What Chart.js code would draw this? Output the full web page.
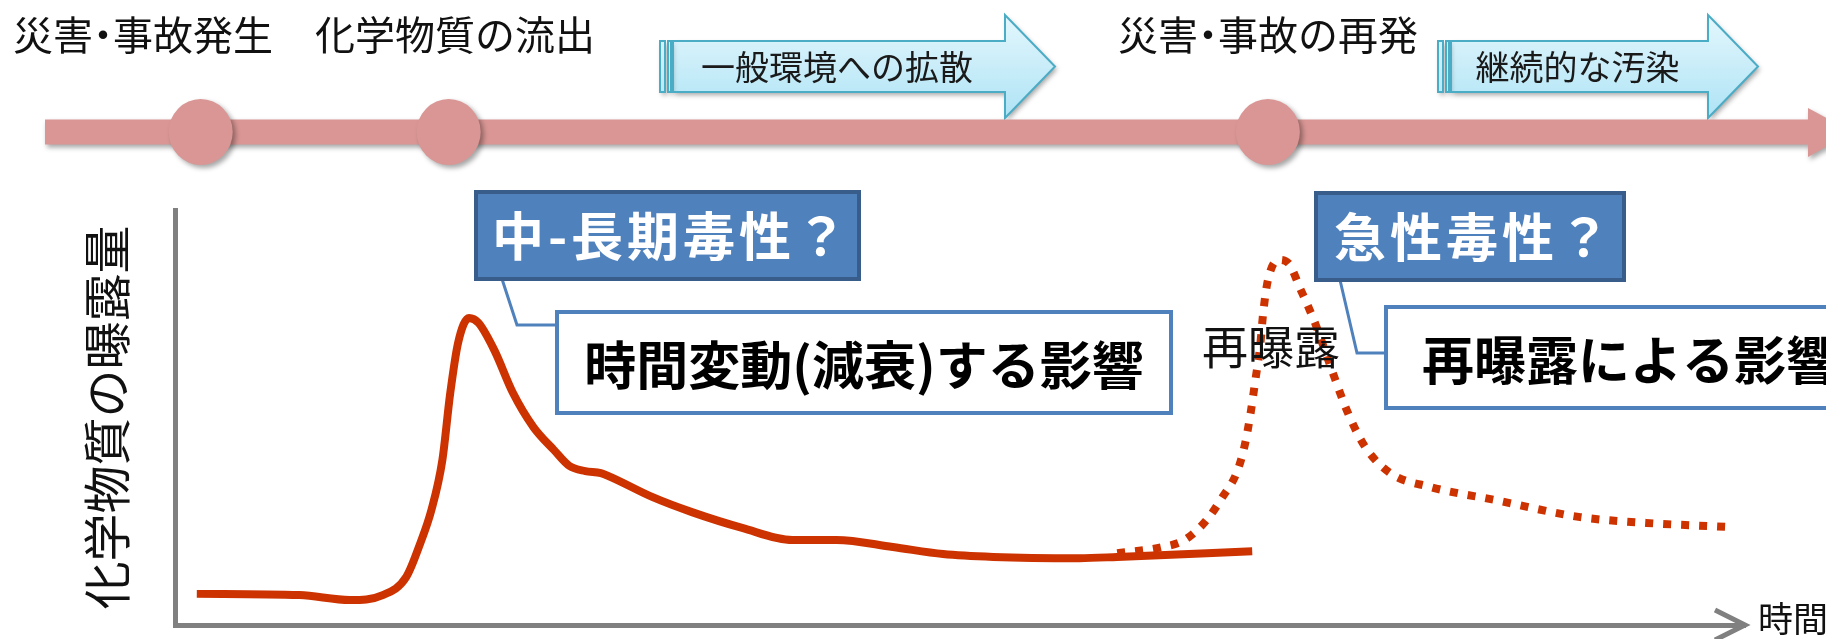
<!DOCTYPE html>
<html>
<head>
<meta charset="utf-8">
<script src="https://cdn.jsdelivr.net/npm/chart.js@4.4.1/dist/chart.umd.min.js"></script>
<style>
  html, body { margin: 0; padding: 0; background: #fff; }
  canvas { display: block; }
</style>
</head>
<body>
<canvas id="exposureChart" width="1826" height="639"></canvas>
<script>
// exposure curve (time 0-100, exposure 0-100)
var solidTime = [1.35, 7.9, 11.1, 13.2, 14.7, 15.6, 16.3, 17.0, 17.5, 18.0, 18.7, 19.3, 20.3, 21.5, 22.8, 24.1, 25.1, 26.1, 27.1, 27.7, 30.4, 32.9, 36.1, 39.3, 42.1, 45.7, 48.9, 52.1, 57.6, 60.0, 68.6];
var solidExposure = [7.5, 7.2, 6.0, 7.2, 11.6, 19.8, 27.7, 39.8, 55.9, 68.0, 74.0, 72.8, 66.3, 55.9, 47.7, 42.2, 38.3, 37.1, 36.6, 35.7, 30.8, 27.2, 23.4, 20.5, 20.5, 18.8, 17.1, 16.4, 16.1, 16.4, 17.8];

// re-exposure (dotted)
var reTime = [60.0, 62.9, 64.3, 65.7, 66.7, 67.6, 68.1, 68.5, 68.8, 69.1, 69.3, 69.6, 70.3, 70.9, 71.7, 72.6, 73.6, 74.7, 75.8, 77.4, 79.9, 84.1, 89.5, 93.7, 99.1];
var reExposure = [17.3, 18.8, 20.5, 25.3, 30.8, 36.6, 42.9, 51.1, 59.0, 67.0, 75.2, 83.1, 88.0, 87.2, 80.7, 72.8, 62.2, 51.1, 42.9, 36.6, 33.3, 30.1, 26.0, 24.6, 23.6];

// timeline events (on the same time axis)
var eventTimes = [1.6, 17.4, 69.6];
var eventLabels = ['災害・事故発生', '化学物質の流出', '災害・事故の再発'];
var phaseLabels = ['一般環境への拡散', '継続的な汚染'];

var yTitle = '化学物質の曝露量';
var xTitle = '時間';
var questionLabels = ['中-長期毒性？', '急性毒性？'];
var effectLabels = ['時間変動(減衰)する影響', '再曝露による影響'];
var reExposureLabel = '再曝露';

var FONT = "'Noto Sans CJK JP', 'Noto Sans', sans-serif";
var RED = '#CC3300';
var PINK = '#D99694';
var GRAY = '#808080';
var BLUE = '#4F81BD';

// pixel layout of the decorations
var layout = {
  eventLabelX: [13, 315, 1118],
  eventLabelY: 35,
  barY: 132, barH: 25, barX0: 45, barHeadX: 1808,
  phases: [[660, 1005, 1055], [1438, 1708, 1758]],
  qBoxes: [[476, 192, 383, 87], [1316, 193, 308, 87]],
  eBoxes: [[557, 312, 614, 101], [1386, 307, 520, 101]],
  leaders: [[[502, 279], [517, 325], [557, 325]], [[1340, 280], [1357, 353], [1386, 353]]]
};

function toXY(xs, ys) {
  return xs.map(function (x, i) { return {x: x, y: ys[i]}; });
}

function shadow(ctx, on) {
  ctx.shadowColor = on ? 'rgba(0,0,0,0.35)' : 'transparent';
  ctx.shadowBlur = on ? 5 : 0;
  ctx.shadowOffsetX = on ? 2 : 0;
  ctx.shadowOffsetY = on ? 3 : 0;
}

function spacedText(ctx, text, cx, cy, gap) {
  var chars = Array.from(text);
  var widths = chars.map(function (c) { return ctx.measureText(c).width; });
  var total = widths.reduce(function (a, b) { return a + b; }, 0) + gap * (chars.length - 1);
  var x = cx - total / 2;
  ctx.textAlign = 'left';
  chars.forEach(function (c, i) {
    ctx.fillText(c, x, cy);
    x += widths[i] + gap;
  });
}

// the middle dot is set tight, as in the original slide
function tightText(ctx, text, x, y) {
  ctx.textAlign = 'left';
  Array.from(text).forEach(function (c) {
    var w = ctx.measureText(c).width;
    if (c === '・') {
      ctx.fillText(c, x - w * 0.25, y);
      x += w * 0.5;
    } else {
      ctx.fillText(c, x, y);
      x += w;
    }
  });
}

function stripedArrow(ctx, p, label) {
  var x0 = p[0], headX = p[1], tip = p[2];
  var top = 41, bottom = 92, hTop = 15, hBot = 118, mid = (top + bottom) / 2;
  var grad = ctx.createLinearGradient(0, hTop, 0, hBot);
  grad.addColorStop(0, '#E4F7FD');
  grad.addColorStop(1, '#AEE3F5');
  ctx.save();
  ctx.fillStyle = grad;
  ctx.strokeStyle = '#4BACC6';
  ctx.lineWidth = 2;
  shadow(ctx, true);
  ctx.beginPath();
  ctx.moveTo(x0 + 13, top);
  ctx.lineTo(headX, top);
  ctx.lineTo(headX, hTop);
  ctx.lineTo(tip, mid);
  ctx.lineTo(headX, hBot);
  ctx.lineTo(headX, bottom);
  ctx.lineTo(x0 + 13, bottom);
  ctx.closePath();
  ctx.fill();
  ctx.fillRect(x0, top, 5, bottom - top);
  ctx.fillRect(x0 + 8, top, 3, bottom - top);
  shadow(ctx, false);
  ctx.stroke();
  ctx.strokeRect(x0, top, 5, bottom - top);
  ctx.strokeRect(x0 + 8, top, 3, bottom - top);
  ctx.fillStyle = '#1a1a1a';
  ctx.font = '34px ' + FONT;
  ctx.textAlign = 'center';
  ctx.textBaseline = 'middle';
  ctx.fillText(label, (x0 + 13 + headX) / 2 - 2, mid + 1);
  ctx.restore();
}

var diagramPlugin = {
  id: 'diagram',
  beforeDraw: function (chart) {
    var ctx = chart.ctx;
    var xs = chart.scales.x;
    ctx.save();
    ctx.fillStyle = '#fff';
    ctx.fillRect(0, 0, chart.width, chart.height);

    // event labels
    ctx.fillStyle = '#111';
    ctx.font = '40px ' + FONT;
    ctx.textBaseline = 'middle';
    eventLabels.forEach(function (t, i) {
      tightText(ctx, t, layout.eventLabelX[i], layout.eventLabelY);
    });

    // phase arrows
    phaseLabels.forEach(function (t, i) { stripedArrow(ctx, layout.phases[i], t); });

    // timeline bar with arrow head
    var by = layout.barY, bh = layout.barH;
    ctx.fillStyle = PINK;
    shadow(ctx, true);
    ctx.beginPath();
    ctx.moveTo(layout.barX0, by - bh / 2);
    ctx.lineTo(layout.barHeadX, by - bh / 2);
    ctx.lineTo(layout.barHeadX, by - 24);
    ctx.lineTo(layout.barHeadX + 44, by);
    ctx.lineTo(layout.barHeadX, by + 25);
    ctx.lineTo(layout.barHeadX, by + bh / 2);
    ctx.lineTo(layout.barX0, by + bh / 2);
    ctx.closePath();
    ctx.fill();

    // event markers placed on the time axis
    ctx.shadowOffsetX = 3;
    eventTimes.forEach(function (t) {
      var px = xs.getPixelForValue(t);
      ctx.beginPath();
      ctx.ellipse(px, by, 32, 33, 0, 0, Math.PI * 2);
      ctx.fill();
    });
    ctx.restore();
  },
  afterDraw: function (chart) {
    var ctx = chart.ctx;
    var area = chart.chartArea;
    ctx.save();

    // x axis arrow head and label
    ctx.strokeStyle = GRAY;
    ctx.lineWidth = 5;
    ctx.lineJoin = 'miter';
    ctx.beginPath();
    ctx.moveTo(area.right - 30, area.bottom - 15);
    ctx.lineTo(area.right, area.bottom);
    ctx.lineTo(area.right - 30, area.bottom + 15);
    ctx.stroke();
    ctx.fillStyle = '#111';
    ctx.font = '35px ' + FONT;
    ctx.textAlign = 'left';
    ctx.textBaseline = 'middle';
    ctx.fillText(xTitle, 1758, area.bottom - 6);

    // re-exposure label
    ctx.font = '46px ' + FONT;
    ctx.textAlign = 'center';
    ctx.fillText(reExposureLabel, 1271, 347);

    // leader lines
    ctx.strokeStyle = BLUE;
    ctx.lineWidth = 3;
    layout.leaders.forEach(function (pts) {
      ctx.beginPath();
      ctx.moveTo(pts[0][0], pts[0][1]);
      ctx.lineTo(pts[1][0], pts[1][1]);
      ctx.lineTo(pts[2][0], pts[2][1]);
      ctx.stroke();
    });

    // question boxes
    questionLabels.forEach(function (t, i) {
      var b = layout.qBoxes[i];
      ctx.fillStyle = BLUE;
      ctx.fillRect(b[0], b[1], b[2], b[3]);
      ctx.strokeStyle = '#385D8A';
      ctx.lineWidth = 4;
      ctx.strokeRect(b[0], b[1], b[2], b[3]);
      ctx.fillStyle = '#fff';
      ctx.font = 'bold 52px ' + FONT;
      ctx.textBaseline = 'middle';
      spacedText(ctx, t, b[0] + b[2] / 2 + 2, b[1] + b[3] / 2 + 1, 4);
    });

    // effect boxes
    effectLabels.forEach(function (t, i) {
      var b = layout.eBoxes[i];
      ctx.fillStyle = '#fff';
      ctx.fillRect(b[0], b[1], b[2], b[3]);
      ctx.strokeStyle = BLUE;
      ctx.lineWidth = 4;
      ctx.strokeRect(b[0], b[1], b[2], b[3]);
      ctx.fillStyle = '#000';
      ctx.font = 'bold 52px ' + FONT;
      ctx.textBaseline = 'middle';
      if (i === 0) {
        ctx.textAlign = 'center';
        ctx.fillText(t, b[0] + b[2] / 2, b[1] + b[3] / 2 + 3);
      } else {
        ctx.textAlign = 'left';
        ctx.fillText(t, b[0] + 36, b[1] + b[3] / 2 + 3);
      }
    });
    ctx.restore();
  }
};

Chart.defaults.font.family = FONT;

var ctx = document.getElementById('exposureChart').getContext('2d');
var chart = new Chart(ctx, {
  type: 'line',
  data: {
    datasets: [
      {
        label: '曝露量',
        data: toXY(solidTime, solidExposure),
        borderColor: RED,
        borderWidth: 8,
        borderCapStyle: 'butt',
        cubicInterpolationMode: 'monotone',
        pointRadius: 0,
        fill: false
      },
      {
        label: '再曝露',
        data: toXY(reTime, reExposure),
        borderColor: RED,
        borderWidth: 8,
        borderDash: [8, 10],
        borderCapStyle: 'butt',
        cubicInterpolationMode: 'monotone',
        pointRadius: 0,
        fill: false
      }
    ]
  },
  options: {
    responsive: false,
    animation: false,
    devicePixelRatio: 1,
    layout: {padding: {top: 210, right: 81, bottom: 14, left: 76}},
    plugins: {
      legend: {display: false},
      tooltip: {enabled: false}
    },
    scales: {
      x: {
        type: 'linear',
        min: 0,
        max: 100,
        grid: {display: false, drawTicks: false},
        ticks: {display: false},
        border: {display: true, color: GRAY, width: 5}
      },
      y: {
        min: 0,
        max: 100,
        grid: {display: false, drawTicks: false},
        ticks: {display: false},
        border: {display: true, color: GRAY, width: 5},
        title: {
          display: true,
          text: yTitle,
          color: '#111',
          font: {size: 48, family: FONT},
          padding: {top: 2, bottom: 40}
        }
      }
    }
  },
  plugins: [diagramPlugin]
});
</script>
</body>
</html>
